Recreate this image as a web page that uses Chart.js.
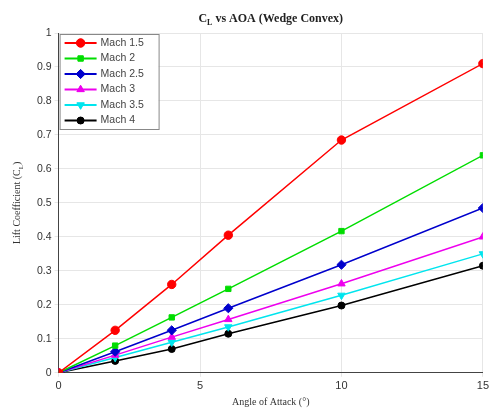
<!DOCTYPE html>
<html>
<head>
<meta charset="utf-8">
<script src="https://cdn.jsdelivr.net/npm/chart.js@4"></script>
<style>
  html, body { margin: 0; padding: 0; background: #fff; }
  #wrap { width: 492px; height: 408px; }
</style>
</head>
<body>
<div id="wrap"><canvas id="chart" width="492" height="408"></canvas></div>
<script>
// Angle of attack (deg)
var aoa = [0, 2, 4, 6, 10, 15];
var seriesNames = ['Mach 1.5', 'Mach 2', 'Mach 2.5', 'Mach 3', 'Mach 3.5', 'Mach 4'];
var mach15 = [0, 0.125, 0.26, 0.405, 0.685, 0.91];
var mach2 = [0, 0.08, 0.163, 0.247, 0.417, 0.64];
var mach25 = [0, 0.062, 0.125, 0.19, 0.318, 0.485];
var mach3 = [0, 0.052, 0.105, 0.157, 0.262, 0.40];
var mach35 = [0, 0.045, 0.09, 0.135, 0.228, 0.35];
var mach4 = [0, 0.035, 0.07, 0.115, 0.198, 0.315];
var xTicks = [0, 5, 10, 15];

var colors = ['#ff0000', '#00dd00', '#0000cc', '#ee00ee', '#00e5ee', '#000000'];
var markers = ['circle', 'rect', 'rectRot', 'triangle', 'triangle', 'circle'];
var rotations = [0, 0, 0, 0, 180, 0];
var radii = [4.2, 3.8, 4.6, 4.3, 4.3, 3.5];
var allData = [mach15, mach2, mach25, mach3, mach35, mach4];

var datasets = allData.map(function (vals, i) {
    return {
        label: seriesNames[i],
        data: vals.map(function (v, j) { return { x: aoa[j], y: v }; }),
        borderColor: colors[i],
        backgroundColor: colors[i],
        borderWidth: 1.5,
        pointStyle: markers[i],
        rotation: rotations[i],
        pointRadius: radii[i],
        pointBorderWidth: 1,
        tension: 0
    };
});

// Title, y label with subscripts and legend drawn inside the plot
var decorPlugin = {
    id: 'decor',
    afterDraw: function (chart) {
        var ctx = chart.ctx;
        var area = chart.chartArea;
        ctx.save();

        // title
        ctx.fillStyle = '#222';
        ctx.textBaseline = 'alphabetic';
        var tFont = 'bold 12px "Liberation Serif", "Times New Roman", serif';
        var sFont = 'bold 8px "Liberation Serif", serif';
        var p1 = 'C', p3 = ' vs AOA (Wedge Convex)';
        ctx.font = tFont; var w1 = ctx.measureText(p1).width;
        ctx.font = sFont; var w2 = ctx.measureText('L').width;
        ctx.font = tFont; var w3 = ctx.measureText(p3).width;
        var cx = (area.left + area.right) / 2;
        var x0 = cx - (w1 + w2 + w3) / 2;
        var ty = 22;
        ctx.textAlign = 'left';
        ctx.font = tFont; ctx.fillText(p1, x0, ty);
        ctx.font = sFont; ctx.fillText('L', x0 + w1, ty + 3);
        ctx.font = tFont; ctx.fillText(p3, x0 + w1 + w2, ty);

        // y axis label
        ctx.save();
        ctx.translate(20, (area.top + area.bottom) / 2);
        ctx.rotate(-Math.PI / 2);
        var yFont = '10px "Liberation Serif", "Times New Roman", serif';
        var ysFont = '7px "Liberation Serif", serif';
        var a = 'Lift Coefficient (C', b = 'L', c = ')';
        ctx.font = yFont; var wa = ctx.measureText(a).width;
        ctx.font = ysFont; var wb = ctx.measureText(b).width;
        ctx.font = yFont; var wc = ctx.measureText(c).width;
        var sx = -(wa + wb + wc) / 2;
        ctx.fillStyle = '#333';
        ctx.font = yFont; ctx.fillText(a, sx, 0);
        ctx.font = ysFont; ctx.fillText(b, sx + wa, 3);
        ctx.font = yFont; ctx.fillText(c, sx + wa + wb, 0);
        ctx.restore();

        // legend
        var lx = area.left + 1, ly = area.top + 1;
        var lw = 99, lh = 95;
        ctx.fillStyle = '#fff';
        ctx.fillRect(lx, ly, lw, lh);
        ctx.strokeStyle = '#888';
        ctx.lineWidth = 1;
        ctx.strokeRect(lx + 0.5, ly + 0.5, lw, lh);
        ctx.font = '10.5px "Liberation Sans", Arial, sans-serif';
        ctx.textBaseline = 'middle';
        chart.data.datasets.forEach(function (ds, i) {
            var yy = ly + 9 + i * 15.5;
            ctx.strokeStyle = ds.borderColor;
            ctx.lineWidth = 2;
            ctx.beginPath();
            ctx.moveTo(lx + 5, yy);
            ctx.lineTo(lx + 37, yy);
            ctx.stroke();
            ctx.fillStyle = ds.backgroundColor;
            ctx.strokeStyle = ds.borderColor;
            ctx.lineWidth = 1;
            Chart.helpers.drawPoint(ctx, {
                pointStyle: ds.pointStyle,
                rotation: ds.rotation,
                radius: ds.pointRadius,
                borderWidth: 1
            }, lx + 21, yy);
            ctx.fill();
            ctx.fillStyle = '#444';
            ctx.fillText(ds.label, lx + 41, yy);
        });
        ctx.restore();
    }
};

new Chart(document.getElementById('chart').getContext('2d'), {
    type: 'line',
    data: { datasets: datasets },
    options: {
        responsive: false,
        animation: false,
        layout: { padding: { top: 33, right: 0, left: 34, bottom: 0 } },
        plugins: {
            legend: { display: false },
            title: { display: false },
            tooltip: { enabled: false }
        },
        scales: {
            x: {
                type: 'linear',
                min: 0,
                max: 15,
                afterBuildTicks: function (axis) {
                    axis.ticks = xTicks.map(function (v) { return { value: v }; });
                },
                grid: { color: '#e6e6e6', tickLength: 4 },
                border: { color: '#444' },
                ticks: {
                    color: '#333',
                    font: { family: '"Liberation Sans", Arial, sans-serif', size: 11 },
                    maxRotation: 0,
                    padding: 3
                },
                title: {
                    display: true,
                    text: 'Angle of Attack (°)',
                    color: '#333',
                    font: { family: '"Liberation Serif", "Times New Roman", serif', size: 10 },
                    padding: { top: 0, bottom: 0 }
                }
            },
            y: {
                min: 0,
                max: 1,
                grid: { color: '#e6e6e6', tickLength: 4 },
                border: { color: '#444' },
                ticks: {
                    stepSize: 0.1,
                    color: '#333',
                    font: { family: '"Liberation Sans", Arial, sans-serif', size: 10.5 },
                    padding: 3,
                    callback: function (v) {
                        var r = Math.round(v * 10) / 10;
                        return r === 0 ? '0' : (r === 1 ? '1' : r.toFixed(1));
                    }
                }
            }
        }
    },
    plugins: [decorPlugin]
});
</script>
</body>
</html>
